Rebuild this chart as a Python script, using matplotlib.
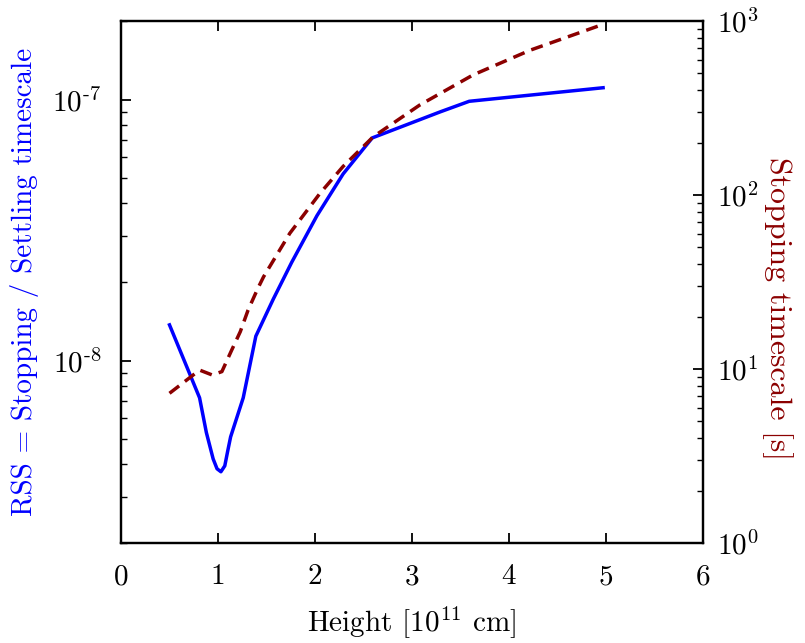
import numpy as np
import matplotlib
matplotlib.use("Agg")
import matplotlib.pyplot as plt
from matplotlib.ticker import LogLocator, NullFormatter, FixedLocator, FixedFormatter

plt.rcParams['font.family'] = 'serif'
plt.rcParams['font.serif'] = ['cmr10']
plt.rcParams['mathtext.fontset'] = 'cm'
plt.rcParams['axes.unicode_minus'] = False
plt.rcParams['axes.formatter.use_mathtext'] = True

# Data
height_rss = [0.5, 0.81, 0.88, 0.95, 0.99, 1.03, 1.07, 1.10, 1.13, 1.26, 1.39, 1.57, 1.76, 2.02,
              2.29, 2.59, 3.29, 3.59, 4.97]
rss = [1.37e-8, 7.2e-9, 5.3e-9, 4.2e-9, 3.85e-9, 3.75e-9, 3.95e-9, 4.5e-9, 5.1e-9, 7.2e-9,
       1.24e-8, 1.72e-8, 2.38e-8, 3.59e-8, 5.19e-8, 7.13e-8, 8.97e-8, 9.85e-8, 1.11e-7]

height_stop = [0.5, 0.81, 0.94, 1.04, 1.14, 1.23, 1.31, 1.41, 1.47, 1.74, 2.05, 2.29, 2.60, 3.08,
               3.63, 4.22, 4.97]
stop_time = [7.25, 9.86, 9.24, 9.66, 12.8, 16.4, 21.8, 29.0, 33.9, 60.2, 102, 146, 216, 329,
             490, 680, 957]

xticks = [0, 1, 2, 3, 4, 5, 6]
left_ticks = [1e-8, 1e-7]
left_labels = [r'$10^{\text{-}8}$', r'$10^{\text{-}7}$']
right_ticks = [1, 10, 100, 1000]
right_labels = [r'$10^{0}$', r'$10^{1}$', r'$10^{2}$', r'$10^{3}$']

blue = '#0000ff'
red = '#8b0000'

fig = plt.figure(figsize=(8.05, 6.43), dpi=100)
ax = fig.add_axes([121/805, 1-543/643, (703-121)/805, (543-21)/643])
ax2 = ax.twinx()

ax.plot(height_rss, rss, color=blue, lw=2.5, solid_joinstyle='round')
ax2.plot(height_stop, stop_time, color=red, lw=2.5, dashes=(3.5, 2.1))

ax.set_xlim(0, 6)
ax.set_yscale('log')
ax.set_ylim(2e-9, 2e-7)
ax2.set_yscale('log')
ax2.set_ylim(1, 1000)

fs = 21
tfs = 21
ax.xaxis.set_major_locator(FixedLocator(xticks))
ax.set_xticklabels([str(t) for t in xticks], fontsize=tfs)
ax.yaxis.set_major_locator(FixedLocator(left_ticks))
ax.yaxis.set_major_formatter(FixedFormatter(left_labels))
ax.yaxis.set_minor_locator(LogLocator(base=10, subs=np.arange(2, 10)))
ax.yaxis.set_minor_formatter(NullFormatter())
ax2.yaxis.set_major_locator(FixedLocator(right_ticks))
ax2.yaxis.set_major_formatter(FixedFormatter(right_labels))
ax2.yaxis.set_minor_locator(LogLocator(base=10, subs=np.arange(2, 10)))
ax2.yaxis.set_minor_formatter(NullFormatter())

ax.tick_params(axis='x', which='major', direction='in', top=True, bottom=True, length=7, width=1.3, labelsize=tfs, pad=15)
ax.tick_params(axis='y', which='major', direction='in', left=True, right=False, length=7, width=1.3, labelsize=tfs, pad=14)
ax.tick_params(axis='y', which='minor', direction='in', left=True, right=False, length=4, width=1.0)
ax2.tick_params(axis='y', which='major', direction='in', right=True, left=False, length=7, width=1.3, labelsize=tfs, pad=10)
ax2.tick_params(axis='y', which='minor', direction='in', right=True, left=False, length=4, width=1.0)

for a in (ax, ax2):
    for s in a.spines.values():
        s.set_linewidth(1.6)

ax.set_xlabel(r'Height [$10^{11}$ cm]', fontsize=fs, labelpad=10)
ax.set_ylabel('RSS = Stopping / Settling timescale', color=blue, fontsize=fs, labelpad=10)
ax2.set_ylabel('Stopping timescale [s]', color=red, fontsize=23, rotation=-90,
               va='center', ha='center')
ax2.yaxis.set_label_coords(1.128, 0.45)

fig.savefig('out.png', dpi=100)
